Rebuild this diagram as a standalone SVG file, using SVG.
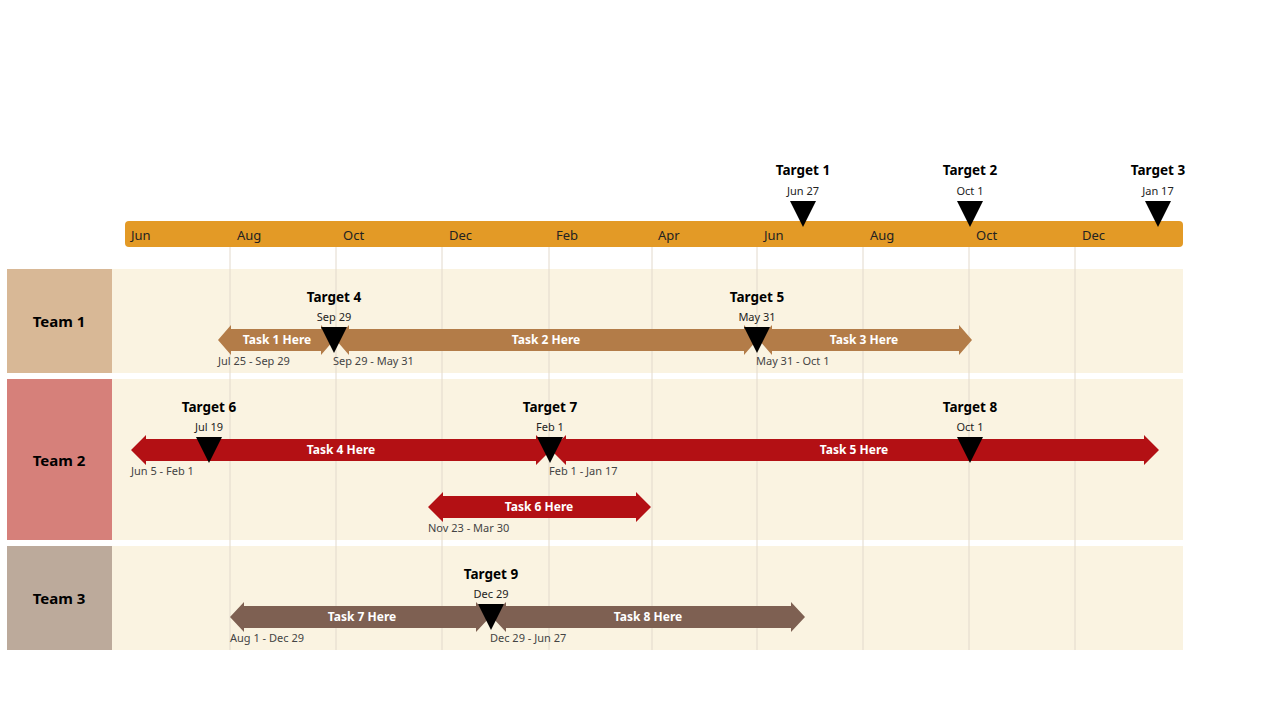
<svg xmlns="http://www.w3.org/2000/svg" width="1280" height="720" viewBox="0 0 1280 720">
<style>
text{font-family:"Noto Sans","Open Sans",sans-serif}
.m{font-size:13px;fill:#222}
.tt{font-size:13.5px;font-weight:bold;fill:#000;text-anchor:middle}
.td{font-size:11px;fill:#222;text-anchor:middle}
.dr{font-size:11px;fill:#444}
.tk{font-size:12px;font-weight:bold;fill:#fff;text-anchor:middle}
.team{font-size:15px;font-weight:bold;fill:#000;text-anchor:middle}
.g{stroke:#e2d9cc;stroke-width:1}
.ms{fill:#000}
</style>
<rect width="1280" height="720" fill="#fff"/>
<g id="rows">
<rect x="112" y="269" width="1071" height="104" fill="#faf3e1"/>
<rect x="112" y="379" width="1071" height="161" fill="#faf3e1"/>
<rect x="112" y="546" width="1071" height="104" fill="#faf3e1"/>
</g>
<g id="team1"><rect x="7" y="269" width="105" height="104" fill="#d8b896"/><text class="team" x="59" y="327">Team 1</text></g>
<g id="team2"><rect x="7" y="379" width="105" height="161" fill="#d6807a"/><text class="team" x="59" y="466">Team 2</text></g>
<g id="team3"><rect x="7" y="546" width="105" height="104" fill="#bcaa9b"/><text class="team" x="59" y="604">Team 3</text></g>
<g id="grid">
<line class="g" x1="230" y1="247" x2="230" y2="650"/><line class="g" x1="336" y1="247" x2="336" y2="650"/>
<line class="g" x1="442" y1="247" x2="442" y2="650"/><line class="g" x1="549" y1="247" x2="549" y2="650"/>
<line class="g" x1="652" y1="247" x2="652" y2="650"/><line class="g" x1="757" y1="247" x2="757" y2="650"/>
<line class="g" x1="863" y1="247" x2="863" y2="650"/><line class="g" x1="969" y1="247" x2="969" y2="650"/>
<line class="g" x1="1075" y1="247" x2="1075" y2="650"/>
</g>
<g id="timeline">
<rect x="125" y="221" width="1058" height="26" rx="4" fill="#e39a26"/>
<text class="m" x="131" y="240">Jun</text><text class="m" x="237" y="240">Aug</text><text class="m" x="343" y="240">Oct</text>
<text class="m" x="449" y="240">Dec</text><text class="m" x="556" y="240">Feb</text><text class="m" x="658" y="240">Apr</text>
<text class="m" x="764" y="240">Jun</text><text class="m" x="870" y="240">Aug</text><text class="m" x="976" y="240">Oct</text>
<text class="m" x="1082" y="240">Dec</text>
</g>
<g id="connectors">
<polygon fill="#b37c48" points="218,340 231,325 231,329 321,329 321,325 334,340 321,355 321,351 231,351 231,355"/>
<polygon fill="#b37c48" points="336,340 349,325 349,329 744,329 744,325 757,340 744,355 744,351 349,351 349,355"/>
<polygon fill="#b37c48" points="759,340 772,325 772,329 959,329 959,325 972,340 959,355 959,351 772,351 772,355"/>
<polygon fill="#b31014" points="131,450 146,435 146,439 536,439 536,435 551,450 536,465 536,461 146,461 146,465"/>
<polygon fill="#b31014" points="551,450 566,435 566,439 1144,439 1144,435 1159,450 1144,465 1144,461 566,461 566,465"/>
<polygon fill="#b31014" points="428,507 443,492 443,496 636,496 636,492 651,507 636,522 636,518 443,518 443,522"/>
<polygon fill="#7e6052" points="230,617 244,602 244,606 476,606 476,602 490,617 476,632 476,628 244,628 244,632"/>
<polygon fill="#7e6052" points="492,617 506,602 506,606 791,606 791,602 805,617 791,632 791,628 506,628 506,632"/>
</g>
<g id="tasks">
<text class="tk" x="277" y="344">Task 1 Here</text><text class="tk" x="546" y="344">Task 2 Here</text><text class="tk" x="864" y="344">Task 3 Here</text>
<text class="tk" x="341" y="454">Task 4 Here</text><text class="tk" x="854" y="454">Task 5 Here</text><text class="tk" x="539" y="511">Task 6 Here</text>
<text class="tk" x="362" y="621">Task 7 Here</text><text class="tk" x="648" y="621">Task 8 Here</text>
<text class="dr" x="218" y="365">Jul 25 - Sep 29</text><text class="dr" x="333" y="365">Sep 29 - May 31</text><text class="dr" x="756" y="365">May 31 - Oct 1</text>
<text class="dr" x="131" y="475">Jun 5 - Feb 1</text><text class="dr" x="549" y="475">Feb 1 - Jan 17</text><text class="dr" x="428" y="532">Nov 23 - Mar 30</text>
<text class="dr" x="230" y="642">Aug 1 - Dec 29</text><text class="dr" x="490" y="642">Dec 29 - Jun 27</text>
</g>
<g id="milestones">
<g id="t1"><text class="tt" x="803" y="175">Target 1</text><text class="td" x="803" y="195">Jun 27</text><polygon class="ms" points="790,201 816,201 803,227"/></g>
<g id="t2"><text class="tt" x="970" y="175">Target 2</text><text class="td" x="970" y="195">Oct 1</text><polygon class="ms" points="957,201 983,201 970,227"/></g>
<g id="t3"><text class="tt" x="1158" y="175">Target 3</text><text class="td" x="1158" y="195">Jan 17</text><polygon class="ms" points="1145,201 1171,201 1158,227"/></g>
<g id="t4"><text class="tt" x="334" y="302">Target 4</text><text class="td" x="334" y="321">Sep 29</text><polygon class="ms" points="321,327 347,327 334,353"/></g>
<g id="t5"><text class="tt" x="757" y="302">Target 5</text><text class="td" x="757" y="321">May 31</text><polygon class="ms" points="744,327 770,327 757,353"/></g>
<g id="t6"><text class="tt" x="209" y="412">Target 6</text><text class="td" x="209" y="431">Jul 19</text><polygon class="ms" points="196,437 222,437 209,463"/></g>
<g id="t7"><text class="tt" x="550" y="412">Target 7</text><text class="td" x="550" y="431">Feb 1</text><polygon class="ms" points="537,437 563,437 550,463"/></g>
<g id="t8"><text class="tt" x="970" y="412">Target 8</text><text class="td" x="970" y="431">Oct 1</text><polygon class="ms" points="957,437 983,437 970,463"/></g>
<g id="t9"><text class="tt" x="491" y="579">Target 9</text><text class="td" x="491" y="598">Dec 29</text><polygon class="ms" points="478,604 504,604 491,630"/></g>
</g>
</svg>
